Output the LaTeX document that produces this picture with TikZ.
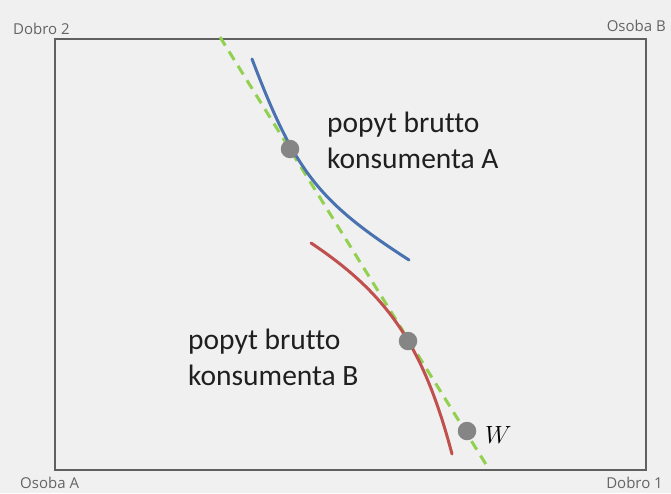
\documentclass[tikz,border=0pt]{standalone}
\usepackage{fontspec}
\usepackage{tikz}
\usetikzlibrary{positioning}
\newfontfamily\cornerfont{Open Sans}
\newfontfamily\demandfont[Ligatures=CommonOff]{Carlito}
\definecolor{bgGray}{HTML}{F0F0F0}
\definecolor{frameGray}{HTML}{606060}
\definecolor{cornerGray}{HTML}{646464}
\definecolor{curveBlue}{HTML}{4A72B0}
\definecolor{curveRed}{HTML}{C0504D}
\definecolor{budgetGreen}{HTML}{92D050}
\definecolor{dotGray}{HTML}{858585}

\begin{document}
\begin{tikzpicture}[
  x=1pt, y=-1pt,
  corner/.style={font=\cornerfont\fontsize{15}{18}\selectfont, text=cornerGray, inner sep=0pt},
  demand/.style={font=\demandfont\fontsize{29.5}{36}\selectfont, text=black!88, align=left, inner sep=0pt, anchor=base west},
  dot/.style={circle, fill=dotGray, minimum size=18.5pt, inner sep=0pt},
  curve/.style={line width=3pt, line cap=round},
  budget/.style={line width=3pt, budgetGreen, dash pattern=on 10pt off 7pt}
]
\useasboundingbox[fill=bgGray] (0,0) rectangle (671,493);

% Edgeworth box
\draw[frameGray, line width=2pt] (55,39) rectangle (646,470);
\node[corner, anchor=base west] (dobroTwo) at (13,34) {Dobro 2};
\node[corner, anchor=base east] (osobaB) at (666,31) {Osoba B};
\node[corner, anchor=base west] (osobaA) at (20,488) {Osoba A};
\node[corner, anchor=base east] (dobroOne) at (663,488) {Dobro 1};

% budget line
\coordinate (budgetTop) at (220,37);
\coordinate (budgetEnd) at (487,466);
\draw[budget] (budgetTop) -- (budgetEnd);

% gross demand curves
\draw[curve, curveBlue] (252,59) .. controls (295,172) and (319,202) .. (409,260);
\draw[curve, curveRed] (311,243) .. controls (388.6,294.7) and (423.8,347.4) .. (452,454);

\node[dot] (ptA) at (290,149) {};
\node[dot] (ptB) at (408,341) {};
\node[dot] (ptW) at (467,431) {};

\node[demand] (textA) at (327,168) {popyt brutto\\konsumenta A};
\node[demand] (textB) at (188,385) {popyt brutto\\konsumenta B};
\node[font=\fontsize{32}{36}\selectfont, inner sep=0pt, anchor=base west] (labelW) at (485,443) {$W$};
\end{tikzpicture}
\end{document}
